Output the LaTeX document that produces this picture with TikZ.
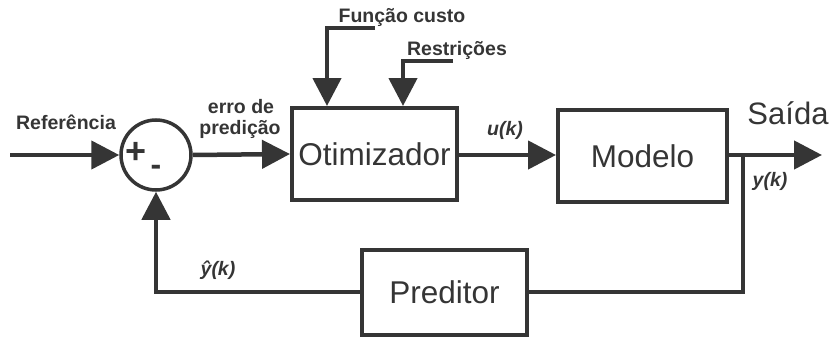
\documentclass[tikz,border=0pt]{standalone}
\usepackage{fontspec}
\setmainfont{Liberation Sans}
\usetikzlibrary{arrows.meta}
\definecolor{ink}{HTML}{353535}
\tikzset{
  blk/.style={draw=ink,line width=4pt,minimum width=165pt,minimum height=92pt,inner sep=0pt,font=\fontsize{31.5}{33}\selectfont,text=ink},
  wire/.style={draw=ink,line width=4.5pt},
  arr/.style={wire,-{Triangle[length=28pt,width=28pt]}},
  lbl/.style={text=ink,font=\fontsize{19.5}{21}\selectfont\bfseries,inner sep=0pt},
  ilbl/.style={text=ink,font=\fontsize{19.5}{21}\selectfont\bfseries\itshape,inner sep=0pt}
}
\begin{document}
\begin{tikzpicture}[x=1pt,y=-1pt]
\useasboundingbox (0,0) rectangle (831,340);
% blocks
\node[draw=ink,line width=3.5pt,circle,minimum size=70pt,inner sep=0pt] (sum) at (156,155) {};
\node[text=ink,font=\fontsize{36}{38}\selectfont\bfseries,inner sep=0pt] (plus) at (136,153) {+};
\node[text=ink,font=\fontsize{32}{34}\selectfont\bfseries,inner sep=0pt] (minus) at (156,170) {-};
\node[blk] (otim) at (374.5,154) {Otimizador};
\node[blk,minimum width=169pt] (mod) at (642.5,156) {Modelo};
\node[blk,minimum height=85pt] (pred) at (444.5,292.5) {Preditor};
% coordinates
\coordinate (in) at (10,155);
\coordinate (out) at (822,155);
\coordinate (tap) at (743,155);
\coordinate (tapd) at (743,292);
\coordinate (fbl) at (156,292);
\coordinate (fcA) at (375,28);
\coordinate (fcB) at (327,28);
\coordinate (rsA) at (453,61);
\coordinate (rsB) at (403,61);
% connectors
\draw[arr] (in) -- (sum.west);
\draw[arr] (sum.east) -- (otim.west);
\draw[arr] (otim.east |- tap) -- (mod.west |- tap);
\draw[arr] (mod.east |- tap) -- (out);
\draw[wire] (tap) -- (tapd) -- (pred.east |- tapd);
\draw[arr] (pred.west |- fbl) -- (fbl) -- (sum.south);
\draw[arr] (fcA) -- (fcB) -- (fcB |- otim.north);
\draw[arr] (rsA) -- (rsB) -- (rsB |- otim.north);
% labels
\node[lbl,anchor=base] (lref) at (66,129) {Referência};
\node[lbl,anchor=base] (lerro) at (241,113) {erro de};
\node[lbl,anchor=base] (lpred) at (240,134) {predição};
\node[lbl,anchor=base] (lfc) at (402,22) {Função custo};
\node[lbl,anchor=base] (lrs) at (457,56) {Restrições};
\node[ilbl] (lu) at (505,130) {u(k)};
\node[text=ink,font=\fontsize{31}{33}\selectfont,inner sep=0pt] (lsai) at (788,113) {Saída};
\node[ilbl] (ly) at (770,181) {y(k)};
\node[ilbl] (lyh) at (218,270) {ŷ(k)};
\end{tikzpicture}
\end{document}
